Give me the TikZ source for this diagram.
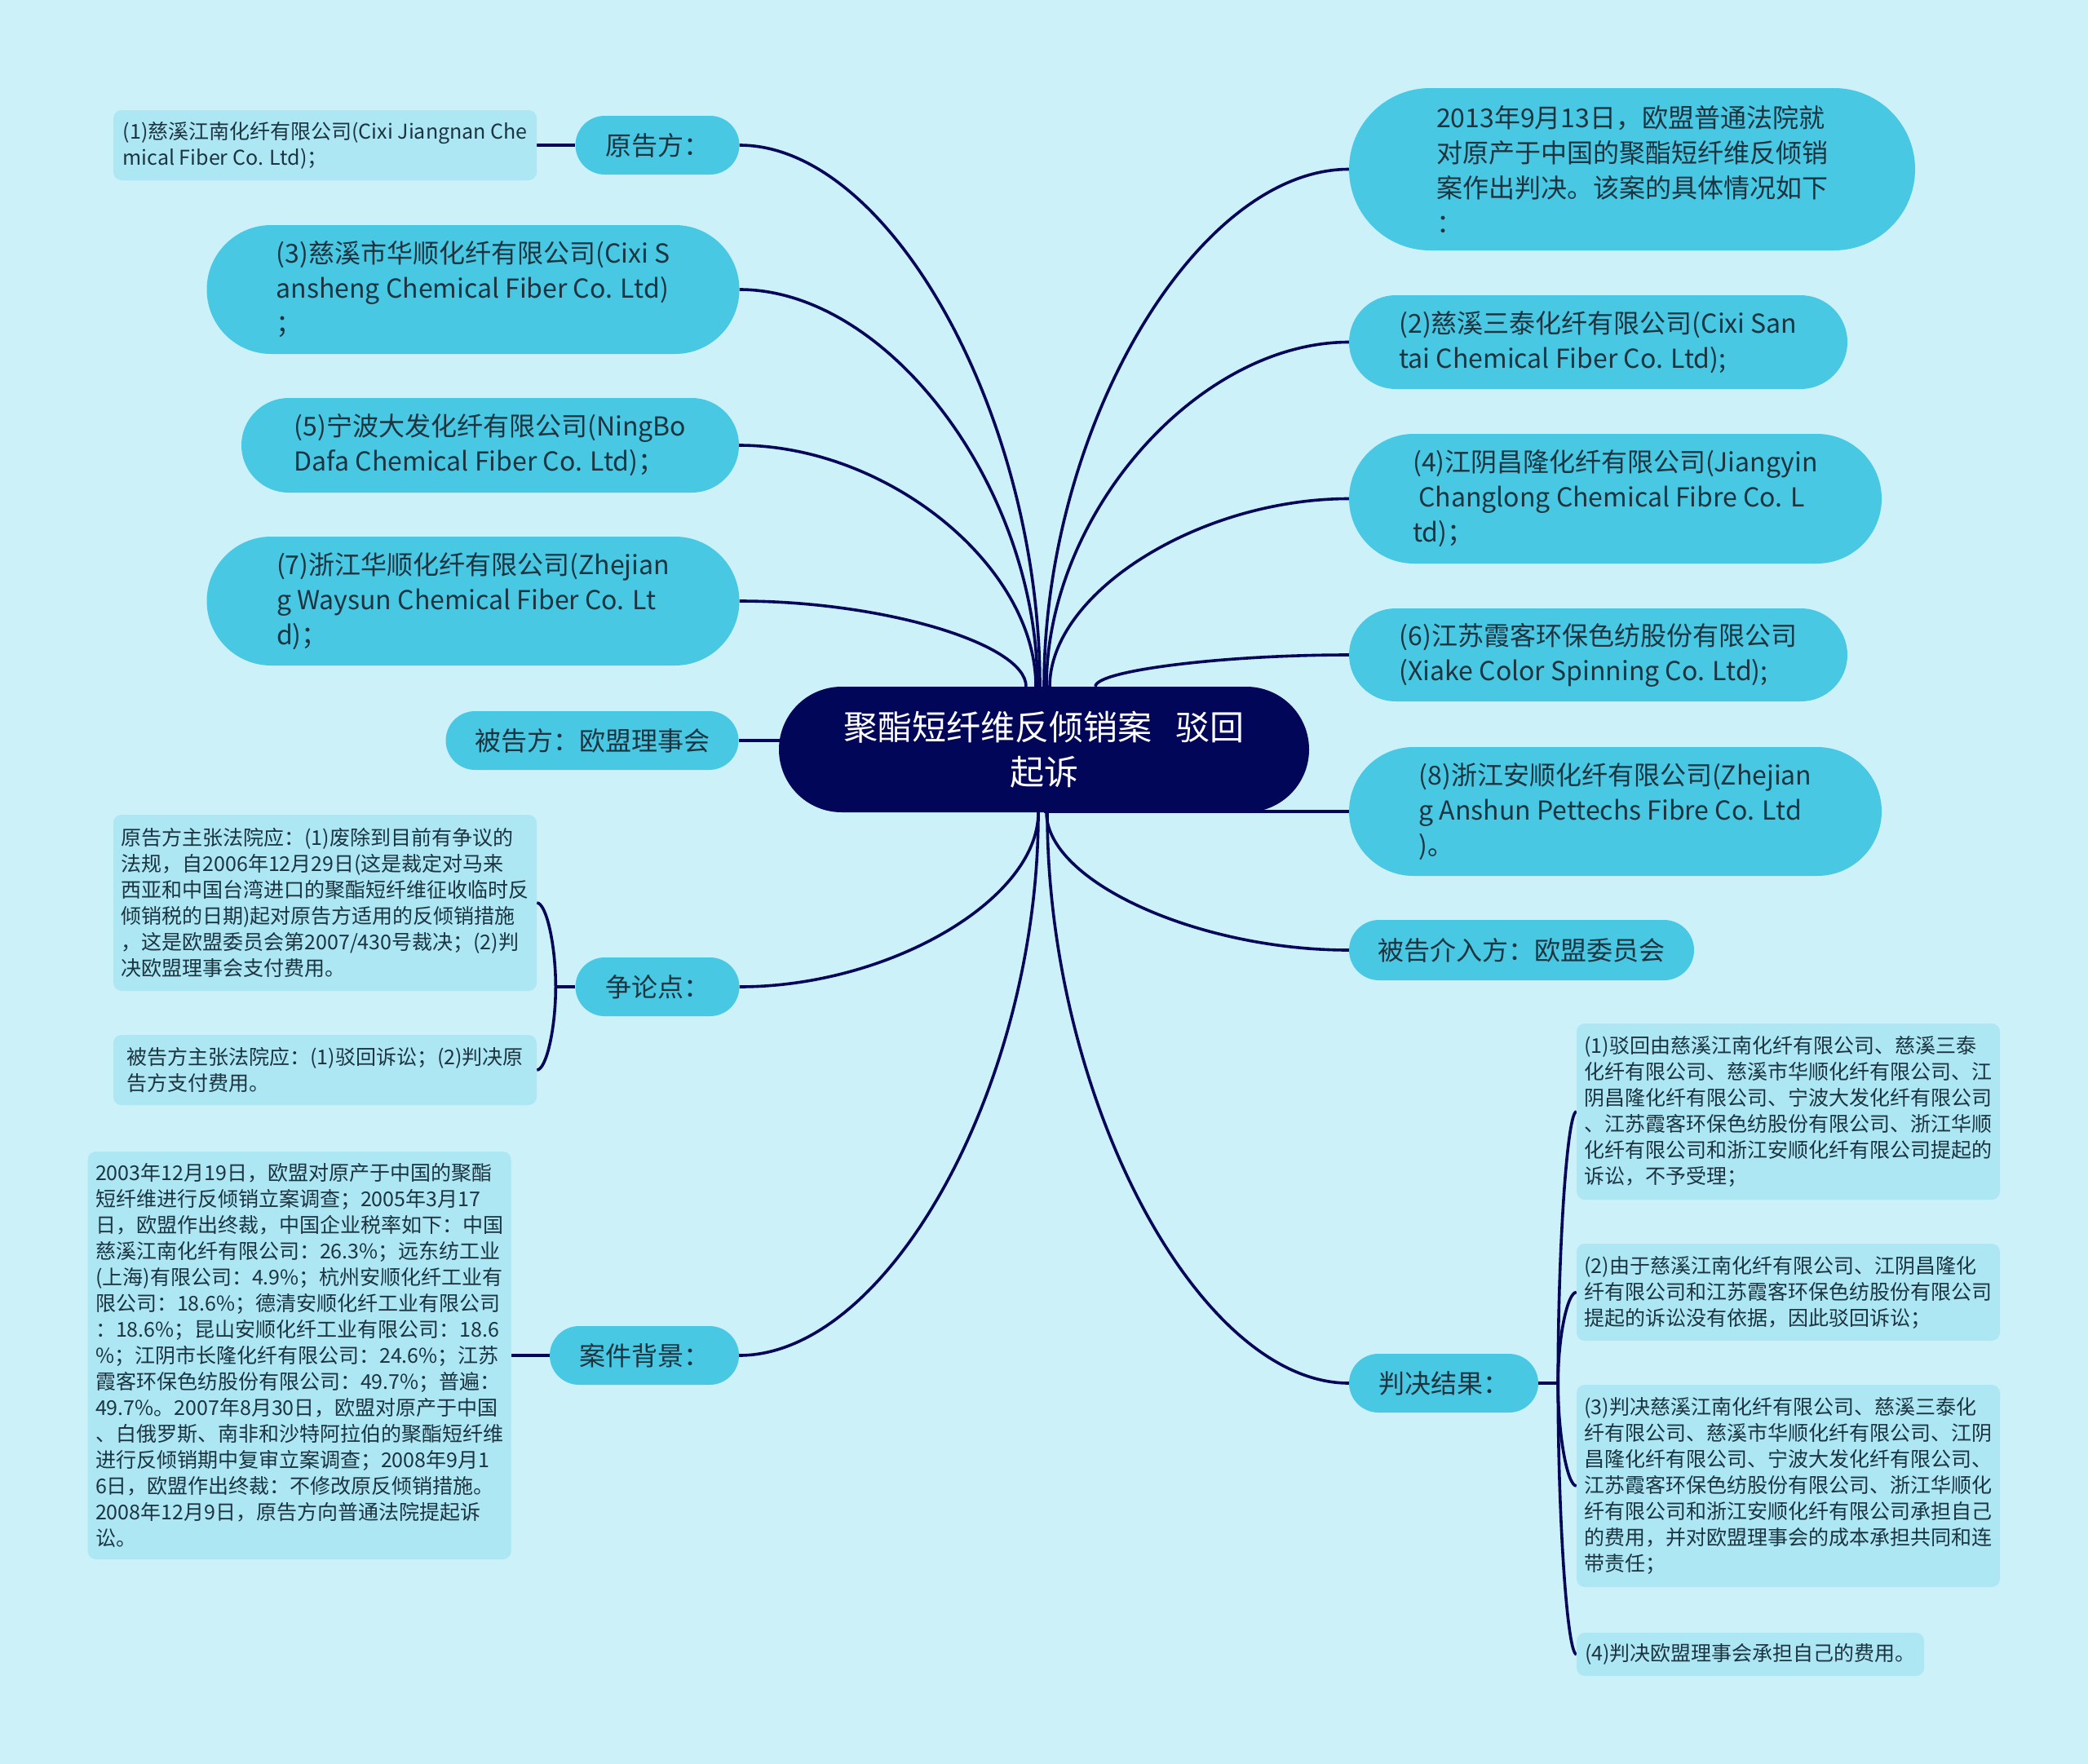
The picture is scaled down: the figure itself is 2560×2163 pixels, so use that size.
\documentclass[tikz,border=0pt]{standalone}
\usepackage{fontspec}
\setmainfont{Noto Sans CJK SC}
\usetikzlibrary{positioning, calc, backgrounds}

% Colour palette
\definecolor{pageBg}{HTML}{CCF1F9}
\definecolor{rootNavy}{HTML}{020658}
\definecolor{topicBlue}{HTML}{48C8E3}
\definecolor{leafBlue}{HTML}{ADE7F4}
\definecolor{inkDark}{HTML}{1C3440}

% Font sizes (1 unit = 1 pixel of the layout)
\newcommand{\rootfont}{\fontsize{42}{55}\selectfont}
\newcommand{\topicfont}{\fontsize{32}{43}\selectfont}
\newcommand{\leaffont}{\fontsize{25}{32}\selectfont}

\begin{document}
\begin{tikzpicture}[
    x=1pt, y=-1pt,
    % Node Styles
    root/.style={rectangle, fill=rootNavy, text=white, font=\rootfont, align=center,
        inner sep=0pt, minimum width=650, minimum height=154, rounded corners=77},
    pill/.style 2 args={rectangle, fill=topicBlue, text=inkDark, font=\topicfont, align=left,
        inner sep=0pt, minimum width=#1, minimum height=#2, rounded corners=#2/2},
    leaf/.style 2 args={rectangle, fill=leafBlue, text=inkDark, font=\leaffont, align=left,
        inner sep=0pt, minimum width=#1, minimum height=#2, rounded corners=10},
    % Connector Style
    link/.style={draw=rootNavy, line width=3.6}
]
\useasboundingbox (0,0) rectangle (2560,2163);

% =========================================================
% ROOT
% =========================================================
\node[root] (root) at (1280, 919) {聚酯短纤维反倾销案\hspace{0.7em}驳回\\起诉};

% =========================================================
% LEFT BRANCHES
% =========================================================
\node[pill={201}{72}] (plaintiff) at (806, 178) {原告方：};
\node[leaf={519}{86}, left=47pt of plaintiff] (plaintiffLeaf) {
    (1)慈溪江南化纤有限公司(Cixi Jiangnan Che\\
    mical Fiber Co. Ltd)；};

\node[pill={653}{158}] (co3) at (580, 355) {
    (3)慈溪市华顺化纤有限公司(Cixi S\\
    ansheng Chemical Fiber Co. Ltd)\\
    ；};

\node[pill={610}{116}] (co5) at (601, 546) {
    (5)宁波大发化纤有限公司(NingBo\\
    Dafa Chemical Fiber Co. Ltd)；};

\node[pill={653}{158}] (co7) at (580, 737) {
    (7)浙江华顺化纤有限公司(Zhejian\\
    g Waysun Chemical Fiber Co. Lt\\
    d)；};

\node[pill={359}{72}] (defendant) at (726, 908) {被告方：欧盟理事会};

% Dispute
\node[pill={201}{72}] (dispute) at (806, 1210) {争论点：};
\node[leaf={519}{216}] (disputeLeafA) at (398.5, 1107) {
    原告方主张法院应：(1)废除到目前有争议的\\
    法规，自2006年12月29日(这是裁定对马来\\
    西亚和中国台湾进口的聚酯短纤维征收临时反\\
    倾销税的日期)起对原告方适用的反倾销措施\\
    ，这是欧盟委员会第2007/430号裁决；(2)判\\
    决欧盟理事会支付费用。};
\node[leaf={519}{86}] (disputeLeafB) at (398.5, 1312) {
    被告方主张法院应：(1)驳回诉讼；(2)判决原\\
    告方支付费用。};

% Background
\node[pill={232}{72}] (background) at (790, 1662) {案件背景：};
\node[leaf={519}{500}, left=47pt of background] (backgroundLeaf) {
    2003年12月19日，欧盟对原产于中国的聚酯\\
    短纤维进行反倾销立案调查；2005年3月17\\
    日，欧盟作出终裁，中国企业税率如下：中国\\
    慈溪江南化纤有限公司：26.3\%；远东纺工业\\
    (上海)有限公司：4.9\%；杭州安顺化纤工业有\\
    限公司：18.6\%；德清安顺化纤工业有限公司\\
    ：18.6\%；昆山安顺化纤工业有限公司：18.6\\
    \%；江阴市长隆化纤有限公司：24.6\%；江苏\\
    霞客环保色纺股份有限公司：49.7\%；普遍：\\
    49.7\%。2007年8月30日，欧盟对原产于中国\\
    、白俄罗斯、南非和沙特阿拉伯的聚酯短纤维\\
    进行反倾销期中复审立案调查；2008年9月1\\
    6日，欧盟作出终裁：不修改原反倾销措施。\\
    2008年12月9日，原告方向普通法院提起诉\\
    讼。};

% =========================================================
% RIGHT BRANCHES
% =========================================================
\node[pill={694}{199}] (ruling) at (2001, 207.5) {
    2013年9月13日，欧盟普通法院就\\
    对原产于中国的聚酯短纤维反倾销\\
    案作出判决。该案的具体情况如下\\
    ：};

\node[pill={611}{115}] (co2) at (1959.5, 419.5) {
    (2)慈溪三泰化纤有限公司(Cixi San\\
    tai Chemical Fiber Co. Ltd);};

\node[pill={653}{159}] (co4) at (1980.5, 611.5) {
    (4)江阴昌隆化纤有限公司(Jiangyin\\
    \ Changlong Chemical Fibre Co. L\\
    td)；};

\node[pill={611}{114}] (co6) at (1959.5, 803) {
    (6)江苏霞客环保色纺股份有限公司\\
    (Xiake Color Spinning Co. Ltd);};

\node[pill={653}{158}] (co8) at (1980.5, 995) {
    (8)浙江安顺化纤有限公司(Zhejian\\
    g Anshun Pettechs Fibre Co. Ltd\\
    )。};

\node[pill={423}{74}] (intervener) at (1865.5, 1165) {被告介入方：欧盟委员会};

% Result
\node[pill={232}{72}] (result) at (1770, 1696) {判决结果：};
\node[leaf={519}{216}] (resultLeafA) at (2192.5, 1363) {
    (1)驳回由慈溪江南化纤有限公司、慈溪三泰\\
    化纤有限公司、慈溪市华顺化纤有限公司、江\\
    阴昌隆化纤有限公司、宁波大发化纤有限公司\\
    、江苏霞客环保色纺股份有限公司、浙江华顺\\
    化纤有限公司和浙江安顺化纤有限公司提起的\\
    诉讼，不予受理；};
\node[leaf={519}{119}] (resultLeafB) at (2192.5, 1584.5) {
    (2)由于慈溪江南化纤有限公司、江阴昌隆化\\
    纤有限公司和江苏霞客环保色纺股份有限公司\\
    提起的诉讼没有依据，因此驳回诉讼；};
\node[leaf={519}{248}] (resultLeafC) at (2192.5, 1822) {
    (3)判决慈溪江南化纤有限公司、慈溪三泰化\\
    纤有限公司、慈溪市华顺化纤有限公司、江阴\\
    昌隆化纤有限公司、宁波大发化纤有限公司、\\
    江苏霞客环保色纺股份有限公司、浙江华顺化\\
    纤有限公司和浙江安顺化纤有限公司承担自己\\
    的费用，并对欧盟理事会的成本承担共同和连\\
    带责任；};
\node[leaf={426}{53}] (resultLeafD) at (2146, 2028.5) {(4)判决欧盟理事会承担自己的费用。};

% =========================================================
% CONNECTORS (behind the nodes)
% =========================================================
\begin{scope}[on background layer]
    \fill[pageBg] (0,0) rectangle (2560, 2163);

    % root -> left children (top)
    \foreach \kid/\dx in {plaintiff/-5, co3/-8, co5/-10, co7/-22} {
        \coordinate (end\kid) at ($(root.north)+(\dx,0)$);
        \draw[link] (\kid.east) .. controls ($(\kid.east)!0.5!(\kid.east -| end\kid)$)
            and ($(end\kid)!0.5!(end\kid |- \kid.east)$) .. (end\kid);
    }
    % root -> left children (bottom)
    \foreach \kid/\dx in {dispute/-7, background/-7} {
        \coordinate (end\kid) at ($(root.south)+(\dx,0)$);
        \draw[link] (\kid.east) .. controls ($(\kid.east)!0.5!(\kid.east -| end\kid)$)
            and ($(end\kid)!0.5!(end\kid |- \kid.east)$) .. (end\kid);
    }
    % root -> right children (top)
    \foreach \kid/\dx in {ruling/0, co2/3, co4/7, co6/63} {
        \coordinate (end\kid) at ($(root.north)+(\dx,0)$);
        \draw[link] (\kid.west) .. controls ($(\kid.west)!0.5!(\kid.west -| end\kid)$)
            and ($(end\kid)!0.5!(end\kid |- \kid.west)$) .. (end\kid);
    }
    % root -> right children (bottom)
    \foreach \kid/\dx in {intervener/3, result/4} {
        \coordinate (end\kid) at ($(root.south)+(\dx,0)$);
        \draw[link] (\kid.west) .. controls ($(\kid.west)!0.5!(\kid.west -| end\kid)$)
            and ($(end\kid)!0.5!(end\kid |- \kid.west)$) .. (end\kid);
    }
    % straight ones
    \draw[link] (defendant.east) -- (defendant.east -| root.center);
    \draw[link] (co8.west) -- (co8.west -| root.center);
    \draw[link] (backgroundLeaf.east) -- (background.west);
    \draw[link] (plaintiffLeaf.east) -- (plaintiff.west);

    % dispute bracket
    \coordinate (disputeJoint) at ($(dispute.west)+(-24,0)$);
    \draw[link] (dispute.west) -- (disputeJoint);
    \foreach \l in {disputeLeafA, disputeLeafB} {
        \draw[link] (\l.east) .. controls ($(\l.east)!0.5!(\l.east -| disputeJoint)$)
            and ($(disputeJoint)!0.5!(disputeJoint |- \l.east)$) .. (disputeJoint);
    }

    % result bracket
    \coordinate (resultJoint) at ($(result.east)+(24,0)$);
    \draw[link] (result.east) -- (resultJoint);
    \foreach \l in {resultLeafA, resultLeafB, resultLeafC, resultLeafD} {
        \draw[link] (\l.west) .. controls ($(\l.west)!0.5!(\l.west -| resultJoint)$)
            and ($(resultJoint)!0.5!(resultJoint |- \l.west)$) .. (resultJoint);
    }
\end{scope}

\end{tikzpicture}
\end{document}
